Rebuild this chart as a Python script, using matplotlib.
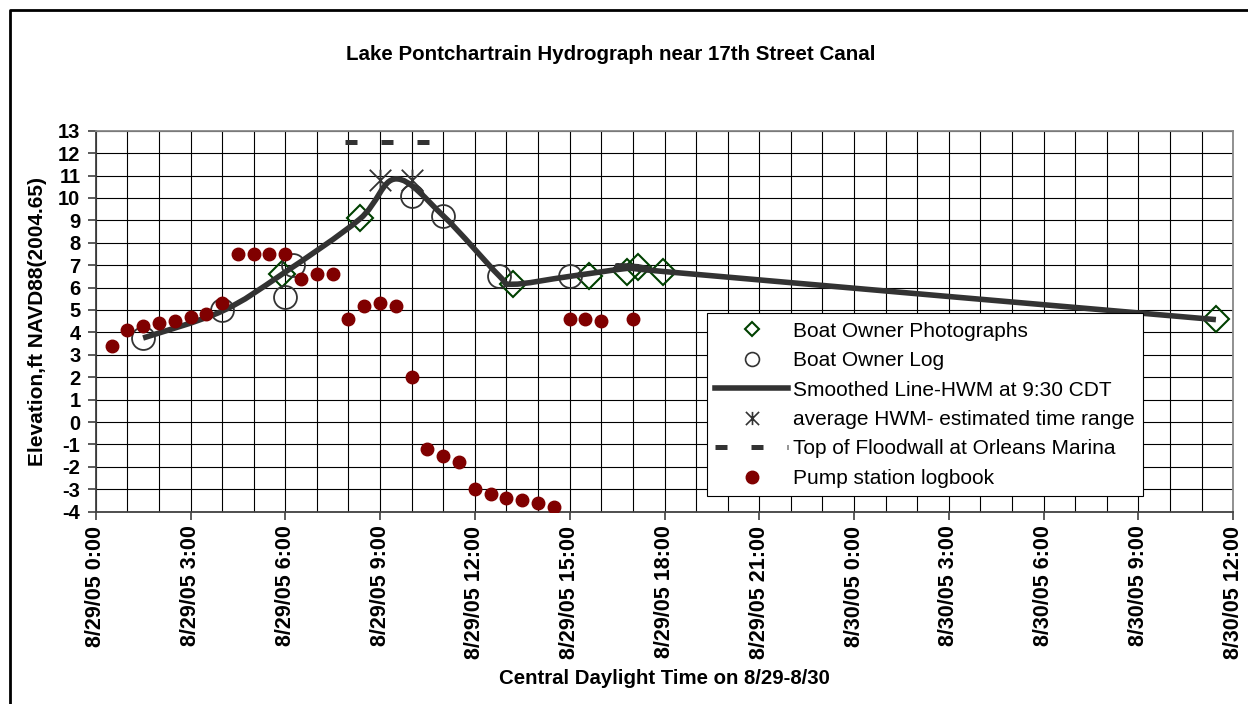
import numpy as np
import matplotlib
matplotlib.use("Agg")
import matplotlib.pyplot as plt
from matplotlib.path import Path
from matplotlib.patches import PathPatch
from matplotlib.lines import Line2D

plt.rcParams["font.family"] = ["Liberation Sans", "DejaVu Sans"]
plt.rcParams["lines.scale_dashes"] = False

# === DATA (hours after 8/29/05 0:00, elevation ft) ===
photo_x = [5.9, 8.35, 13.2, 15.6, 16.8, 17.15, 17.95, 35.45]
photo_y = [6.6, 9.1, 6.15, 6.5, 6.7, 6.9, 6.7, 4.6]

log_x = [1.5, 4.0, 6.0, 6.25, 10.0, 11.0, 12.75, 15.0]
log_y = [3.75, 5.0, 5.6, 7.0, 10.1, 9.2, 6.5, 6.5]

smooth_x = [1.5, 4.0, 5.9, 8.35, 9.5, 11.0, 12.75, 13.2, 15.0, 17.15, 17.95, 35.45]
smooth_y = [3.75, 4.95, 6.6, 9.05, 10.85, 9.2, 6.55, 6.15, 6.5, 6.9, 6.72, 4.57]

hwm_x = [9.0, 10.0]
hwm_y = [10.8, 10.8]

wall_x = [7.9, 10.55]
wall_y = [12.5, 12.5]

pump_x = [0.5, 1, 1.5, 2, 2.5, 3, 3.5, 4, 4.5, 5, 5.5, 6, 6.5, 7, 7.5,
          8, 8.5, 9, 9.5, 10, 10.5, 11, 11.5, 12, 12.5, 13, 13.5, 14, 14.5,
          15, 15.5, 16, 17]
pump_y = [3.4, 4.1, 4.3, 4.4, 4.5, 4.7, 4.8, 5.3, 7.5, 7.5, 7.5, 7.5, 6.4, 6.6, 6.6,
          4.6, 5.2, 5.3, 5.2, 2.0, -1.2, -1.5, -1.8, -3.0, -3.2, -3.4, -3.5, -3.6, -3.8,
          4.6, 4.6, 4.5, 4.6]

tick_hours = list(range(0, 37, 3))
tick_labels = [f"8/{29 + h // 24}/05 {h % 24}:00" for h in tick_hours]

labels = ["Boat Owner Photographs", "Boat Owner Log", "Smoothed Line-HWM at 9:30 CDT",
          "average HWM- estimated time range", "Top of Floodwall at Orleans Marina",
          "Pump station logbook"]

DARK = "#333333"
GREEN = "#004000"
RED = "#800000"


def smooth_path(xs, ys):
    # excel-style smoothed line: catmull-rom converted to cubic bezier segments
    pts = np.column_stack([xs, ys]).astype(float)
    verts = [pts[0]]
    codes = [Path.MOVETO]
    n = len(pts)
    for i in range(n - 1):
        p0 = pts[i - 1] if i > 0 else pts[i]
        p1 = pts[i]
        p2 = pts[i + 1]
        p3 = pts[i + 2] if i + 2 < n else pts[i + 1]
        verts += [p1 + (p2 - p0) / 6, p2 - (p3 - p1) / 6, p2]
        codes += [Path.CURVE4] * 3
    return Path(verts, codes)


asterisk = Path([(-1, -1), (1, 1), (-1, 1), (1, -1), (0, -1), (0, 1)],
                [Path.MOVETO, Path.LINETO] * 3)

# === LAYOUT (pixel based) ===
W, H = 1248, 704
x0, x1, y0, y1 = 95.7, 1233.3, 130.7, 511.7
fig = plt.figure(figsize=(W / 100, H / 100), dpi=100)
ax = fig.add_axes([x0 / W, 1 - y1 / H, (x1 - x0) / W, (y1 - y0) / H])

# === PLOT ===
ax.plot(photo_x, photo_y, ls="none", marker="D", ms=13, mfc="none", mec=GREEN, mew=1.5, zorder=4)
ax.plot(log_x, log_y, ls="none", marker="o", ms=16.5, mfc="none", mec=DARK, mew=1.3, zorder=4)
ax.add_patch(PathPatch(smooth_path(smooth_x, smooth_y), fc="none", ec=DARK, lw=4,
                       capstyle="butt", zorder=5))
ax.plot(hwm_x, hwm_y, ls="none", marker=asterisk, ms=15.5, color=DARK, mew=1.3, zorder=6)
ax.plot(wall_x, wall_y, color=DARK, lw=3.6, dashes=(8.64, 17.28), dash_capstyle="butt", zorder=6)
ax.plot(pump_x, pump_y, ls="none", marker="o", ms=9, color=RED, mec=RED, zorder=7)

ax.set_xlim(0, 36)
ax.set_ylim(-4, 13)
ax.set_xticks(tick_hours)
ax.set_xticklabels(tick_labels, rotation=90, fontsize=15.5, fontweight="bold")
ax.set_xticks(range(0, 37), minor=True)
ax.set_yticks(range(-4, 14))
ax.set_yticklabels([str(v) for v in range(-4, 14)], fontsize=14.5, fontweight="bold")
ax.tick_params(axis="x", which="major", length=6, width=1.2, color="#404040", pad=4)
ax.tick_params(axis="x", which="minor", length=0)
ax.tick_params(axis="y", length=6, width=1.2, color="#404040", pad=5)
ax.grid(True, which="both", color="black", lw=0.8)
ax.set_axisbelow(True)
for s in ["left", "bottom"]:
    ax.spines[s].set_color("#404040")
    ax.spines[s].set_linewidth(1.3)
for s in ["top", "right"]:
    ax.spines[s].set_color("#888888")
    ax.spines[s].set_linewidth(1.3)

ax.set_xlabel("Central Daylight Time on 8/29-8/30", fontsize=14.7, fontweight="bold")
ax.xaxis.set_label_coords(0.5, (y1 - 669) / (y1 - y0))
ax.set_ylabel("Elevation,ft NAVD88(2004.65)", fontsize=15, fontweight="bold")
ax.yaxis.set_label_coords((47 - x0) / (x1 - x0), 0.5)

fig.text(611 / W, 1 - 54 / H, "Lake Pontchartrain Hydrograph near 17th Street Canal",
         ha="center", va="center", fontsize=14.8, fontweight="bold")

# === LEGEND ===
handles = [
    Line2D([], [], ls="none", marker="D", ms=7.5, mfc="none", mec=GREEN, mew=1.5),
    Line2D([], [], ls="none", marker="o", ms=10, mfc="none", mec=DARK, mew=1.2),
    Line2D([], [], color=DARK, lw=4),
    Line2D([], [], ls="none", marker=asterisk, ms=9.5, color=DARK, mew=1.2),
    Line2D([], [], color=DARK, lw=3.6, dashes=(8.64, 17.28), dash_capstyle="butt"),
    Line2D([], [], ls="none", marker="o", ms=9, color=RED, mec=RED),
]
leg = ax.legend(handles, labels, loc="upper left", bbox_to_anchor=(707 / W, 1 - 313.4 / H),
                bbox_transform=fig.transFigure, borderaxespad=0, fontsize=15,
                frameon=True, fancybox=False, framealpha=1, edgecolor="black",
                borderpad=0.4, labelspacing=0.5, handlelength=3.5, handletextpad=0.22)
leg.get_frame().set_linewidth(0.8)
leg.set_zorder(10)

# outer frame of the chart area (left and top edges visible)
fig.add_artist(Line2D([9.5 / W, 9.5 / W, 1.0], [0.0, 1 - 10 / H, 1 - 10 / H],
                      transform=fig.transFigure, color="black", lw=2))

fig.savefig("out.png", dpi=100)
